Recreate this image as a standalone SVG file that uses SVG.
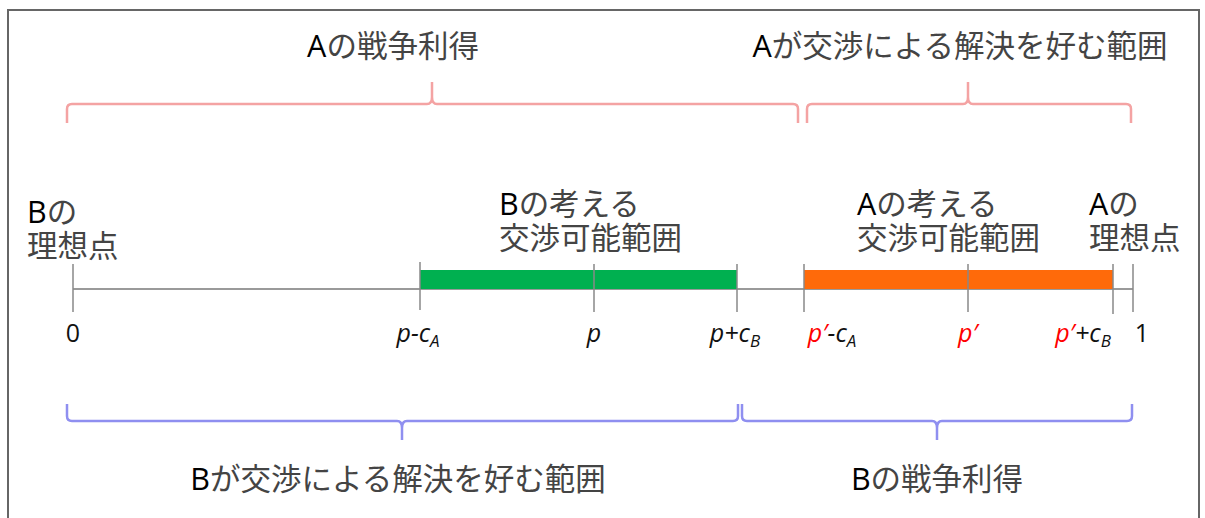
<svg xmlns="http://www.w3.org/2000/svg" width="1205" height="518" viewBox="0 0 1205 518">
<style>
.jp{font-family:"Open Sans","Noto Sans CJK JP",sans-serif;font-size:30.5px;fill:#444}
.lb{font-family:"Open Sans","Liberation Sans",sans-serif;font-size:25px;fill:#111}
.it{font-style:italic}
.red{fill:#ff0000}
.sub{font-size:17px;font-style:italic}
.axis{stroke:#9a9a9a;stroke-width:2;fill:none}
.tick{stroke:#888;stroke-width:1.5}
.rb{stroke:#f4a3a3;stroke-width:2.5;fill:none}
.bb{stroke:#8f8ff0;stroke-width:2.5;fill:none}
</style>
<rect x="0" y="0" width="1205" height="518" fill="#fff"/>
<rect x="8" y="10" width="1191" height="520" fill="none" stroke="#666" stroke-width="2"/>
<g id="connectors">
<path class="rb" d="M67,123 V109 Q67,104 72,104 H427 Q432,104 432,97 V82 V97 Q432,104 437,104 H793 Q798,104 798,109 V123"/>
<path class="rb" d="M807,123 V109 Q807,104 812,104 H963 Q968,104 968,97 V82 V97 Q968,104 973,104 H1126 Q1131,104 1131,109 V123"/>
<path class="bb" d="M67,404 V416 Q67,421 72,421 H397 Q402,421 402,428 V440 V428 Q402,421 407,421 H733 Q738,421 738,416 V404"/>
<path class="bb" d="M742,404 V416 Q742,421 747,421 H932 Q937,421 937,428 V440 V428 Q937,421 942,421 H1127 Q1132,421 1132,416 V404"/>
</g>
<g id="axis">
<line class="axis" x1="73" y1="289" x2="1133" y2="289"/>
<rect x="420" y="270" width="317" height="19" fill="#00b050"/>
<rect x="804" y="270" width="309" height="19" fill="#ff6a0a"/>
<line class="tick" x1="73" y1="264" x2="73" y2="312"/>
<line class="tick" x1="420" y1="262" x2="420" y2="310"/>
<line class="tick" x1="594" y1="264" x2="594" y2="312"/>
<line class="tick" x1="737" y1="264" x2="737" y2="312"/>
<line class="tick" x1="804" y1="264" x2="804" y2="312"/>
<line class="tick" x1="968" y1="264" x2="968" y2="312"/>
<line class="tick" x1="1113" y1="264" x2="1113" y2="314"/>
<line class="tick" x1="1133" y1="264" x2="1133" y2="312"/>
</g>
<g id="title-a-war"><text class="jp" x="393" y="57" text-anchor="middle"><tspan fill="#000">A</tspan>の戦争利得</text></g>
<g id="title-a-nego"><text class="jp" x="960" y="57" text-anchor="middle"><tspan fill="#000">A</tspan>が交渉による解決を好む範囲</text></g>
<g id="b-ideal"><text class="jp" x="27" y="223"><tspan fill="#000">B</tspan>の</text><text class="jp" x="27" y="257">理想点</text></g>
<g id="b-range"><text class="jp" x="499" y="215"><tspan fill="#000">B</tspan>の考える</text><text class="jp" x="499" y="249">交渉可能範囲</text></g>
<g id="a-range"><text class="jp" x="857" y="215"><tspan fill="#000">A</tspan>の考える</text><text class="jp" x="857" y="249">交渉可能範囲</text></g>
<g id="a-ideal"><text class="jp" x="1089" y="215"><tspan fill="#000">A</tspan>の</text><text class="jp" x="1089" y="249">理想点</text></g>
<g id="labels">
<text class="lb" x="73" y="342" text-anchor="middle">0</text>
<text class="lb it" x="418" y="342" text-anchor="middle">p-c<tspan class="sub" dy="5">A</tspan></text>
<text class="lb it" x="594" y="342" text-anchor="middle">p</text>
<text class="lb it" x="735" y="342" text-anchor="middle">p+c<tspan class="sub" dy="5">B</tspan></text>
<text class="lb it" x="832" y="342" text-anchor="middle"><tspan class="red">p′</tspan>-c<tspan class="sub" dy="5">A</tspan></text>
<text class="lb it red" x="968" y="342" text-anchor="middle">p′</text>
<text class="lb it" x="1083" y="342" text-anchor="middle"><tspan class="red">p′</tspan>+c<tspan class="sub" dy="5">B</tspan></text>
<text class="lb" x="1142" y="342" text-anchor="middle">1</text>
</g>
<g id="title-b-nego"><text class="jp" x="398" y="490" text-anchor="middle"><tspan fill="#000">B</tspan>が交渉による解決を好む範囲</text></g>
<g id="title-b-war"><text class="jp" x="937" y="490" text-anchor="middle"><tspan fill="#000">B</tspan>の戦争利得</text></g>
</svg>
